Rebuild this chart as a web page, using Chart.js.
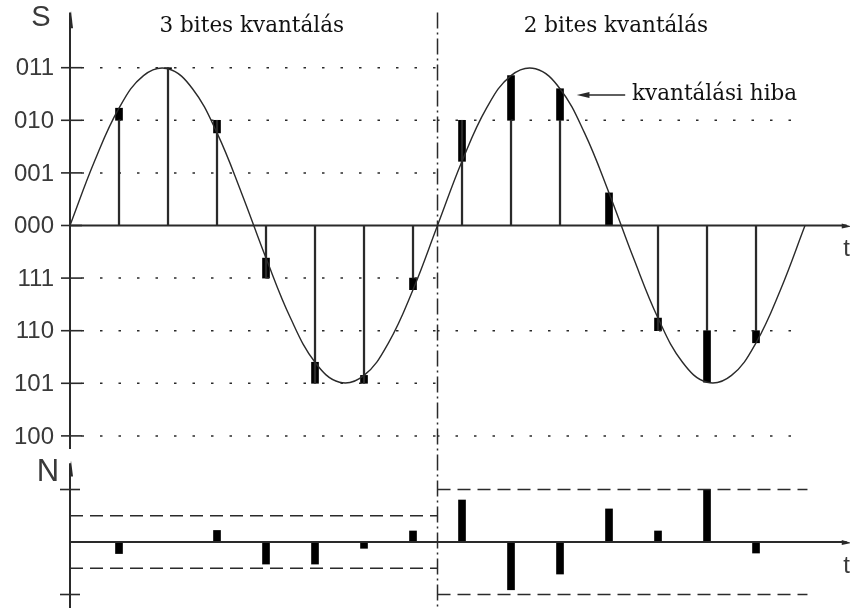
<!DOCTYPE html>
<html lang="hu">
<head>
<meta charset="UTF-8">
<title>Kvantálás</title>
<script src="https://cdn.jsdelivr.net/npm/chart.js"></script>
<style>
    html, body { margin: 0; padding: 0; background: #fff; }
    #wrap { position: relative; width: 850px; height: 608px; }
</style>
</head>
<body>
<div id="wrap"><canvas id="quantChart" width="850" height="608"></canvas></div>
<script>
// x = sample index k (one step = one sampling interval), y = quantization level
const curveK = [0, 0.5, 1, 1.5, 2, 2.5, 3, 3.5, 4, 4.5, 5, 5.5, 6, 6.5, 7, 7.5,
                8, 8.5, 9, 9.5, 10, 10.5, 11, 11.5, 12, 12.5, 13, 13.5, 14, 14.5, 15];
const curveS = [0, 1.22, 2.23, 2.85, 2.98, 2.60, 1.76, 0.62, -0.62, -1.76, -2.60, -2.98, -2.85, -2.23, -1.22, 0,
                1.22, 2.23, 2.85, 2.98, 2.60, 1.76, 0.62, -0.62, -1.76, -2.60, -2.98, -2.85, -2.23, -1.22, 0];

const sampleK = [1, 2, 3, 4, 5, 6, 7, 8, 9, 10, 11, 12, 13, 14];
const sampleS = [2.23, 2.98, 1.76, -0.62, -2.60, -2.85, -1.22, 1.22, 2.85, 2.60, 0.62, -1.76, -2.98, -2.23];
const sampleQ = [2, 3, 2, -1, -3, -3, -1, 2, 2, 2, 0, -2, -2, -2];
const errorN  = [-0.22, 0, 0.22, -0.42, -0.42, -0.12, 0.21, 0.80, -0.91, -0.61, 0.63, 0.21, 1.00, -0.21];

const levelValues = [3, 2, 1, 0, -1, -2, -3, -4];
const levelLabels = ['011', '010', '001', '000', '111', '110', '101', '100'];
const levels3 = [3, 2, 1, -1, -2, -3, -4];   // dotted, 3 bit half
const levels2 = [2, -2, -4];                 // dotted, 2 bit half
const band3 = [0.5, -0.5];                   // error limits, 3 bit
const band2 = [1, -1];                       // error limits, 2 bit
const splitK = 7.5;

const INK = '#2a2a2a';

function guide(pts, dash, offset, axis) {
    return {
        type: 'line', data: pts, yAxisID: axis,
        borderColor: INK, borderWidth: 1.5, borderDash: dash, borderDashOffset: offset,
        pointRadius: 0, fill: false, tension: 0
    };
}

const datasets = [
    ...levels3.map(l => guide([{x: 0, y: l}, {x: splitK, y: l}], [2.5, 16], 7, 'y')),
    ...levels2.map(l => guide([{x: splitK, y: l}, {x: 14.85, y: l}], [2.5, 16], 0.5, 'y')),
    ...band3.map(b => guide([{x: 0, y: b}, {x: splitK, y: b}], [13, 7], 0, 'yN')),
    ...band2.map(b => guide([{x: splitK, y: b}, {x: 15.05, y: b}], [13, 7], 0, 'yN')),
    {
        type: 'line', yAxisID: 'y',
        data: curveK.map((k, i) => ({x: k, y: curveS[i]})),
        borderColor: INK, borderWidth: 1.4, pointRadius: 0, tension: 0.4, fill: false
    },
    {
        type: 'bar', yAxisID: 'y', grouped: false,
        data: sampleK.map((k, i) => ({x: k, y: [0, sampleQ[i]]})),
        backgroundColor: INK, barThickness: 1.6, borderWidth: 0
    },
    {
        type: 'bar', yAxisID: 'y', grouped: false,
        data: sampleK.map((k, i) => ({x: k, y: [sampleQ[i], sampleS[i]]})),
        backgroundColor: '#000', barThickness: 7, borderWidth: 0
    },
    {
        type: 'bar', yAxisID: 'yN', grouped: false,
        data: sampleK.map((k, i) => ({x: k, y: [0, errorN[i]]})),
        backgroundColor: '#000', barThickness: 7, borderWidth: 0
    }
];

const decor = {
    id: 'decor',
    afterDraw(chart) {
        const ctx = chart.ctx;
        const X = v => chart.scales.x.getPixelForValue(v);
        const Y = v => chart.scales.y.getPixelForValue(v);
        const N = v => chart.scales.yN.getPixelForValue(v);
        const seg = (x1, y1, x2, y2) => { ctx.beginPath(); ctx.moveTo(x1, y1); ctx.lineTo(x2, y2); ctx.stroke(); };
        const x0 = X(0);

        ctx.save();
        ctx.strokeStyle = INK;
        ctx.fillStyle = INK;
        ctx.lineWidth = 2;

        // axes
        seg(x0, Y(4.05), x0, Y(-4.25));
        seg(x0, N(1.5), x0, N(-1.3));
        seg(x0, Y(0), X(15.85), Y(0));
        seg(x0, N(0), X(15.85), N(0));

        // arrow heads
        ctx.beginPath();
        ctx.moveTo(x0 + 1, Y(4.08)); ctx.lineTo(x0 - 1, Y(3.75)); ctx.lineTo(x0 + 3, Y(3.75)); ctx.fill();
        ctx.beginPath();
        ctx.moveTo(x0 + 1, N(1.55)); ctx.lineTo(x0 - 1, N(1.25)); ctx.lineTo(x0 + 3, N(1.25)); ctx.fill();
        [Y(0), N(0)].forEach(py => {
            ctx.beginPath();
            ctx.moveTo(X(15.95), py + 1); ctx.lineTo(X(15.75), py - 2); ctx.lineTo(X(15.75), py + 3); ctx.fill();
        });

        // ticks + level labels
        ctx.lineWidth = 1.6;
        ctx.fillStyle = '#3a3a3a';
        ctx.font = '24px "Liberation Sans", Arial, sans-serif';
        ctx.textAlign = 'right';
        ctx.textBaseline = 'middle';
        levelValues.forEach((v, i) => {
            seg(x0 - 9, Y(v), x0 + 12, Y(v));
            ctx.fillText(levelLabels[i], x0 - 16, Y(v) + 1);
        });
        [1, -1].forEach(v => seg(x0 - 10, N(v), x0 + 10, N(v)));

        // axis names
        ctx.textAlign = 'center';
        ctx.font = '29px "Liberation Sans", Arial, sans-serif';
        ctx.fillText('S', x0 - 29, Y(3.95));
        ctx.font = '31px "Liberation Sans", Arial, sans-serif';
        ctx.fillText('N', x0 - 22, N(1.33));
        ctx.textAlign = 'left';
        ctx.font = '24px "Liberation Sans", Arial, sans-serif';
        ctx.fillText('t', X(15.78), Y(-0.45));
        ctx.fillText('t', X(15.78), N(-0.46));

        // dash-dot divider
        ctx.lineWidth = 1.5;
        ctx.setLineDash([16, 4, 2, 4]);
        seg(X(splitK), Y(4.05), X(splitK), chart.height);
        ctx.setLineDash([]);

        // titles
        ctx.font = '21.5px "DejaVu Serif", serif';
        ctx.fillStyle = '#111';
        ctx.textAlign = 'center';
        ctx.fillText('3 bites kvantálás', X(3.71), Y(3.78));
        ctx.fillText('2 bites kvantálás', X(11.14), Y(3.78));
        ctx.textAlign = 'left';
        ctx.fillText('kvantálási hiba', X(11.47), Y(2.5));

        // pointer to the error bar
        ctx.fillStyle = INK;
        ctx.lineWidth = 1.5;
        seg(X(10.55), Y(2.48), X(11.33), Y(2.48));
        ctx.beginPath();
        ctx.moveTo(X(10.34), Y(2.48));
        ctx.lineTo(X(10.6), Y(2.48) - 3);
        ctx.lineTo(X(10.6), Y(2.48) + 3);
        ctx.fill();
        ctx.restore();
    }
};

new Chart(document.getElementById('quantChart').getContext('2d'), {
    type: 'bar',
    data: { datasets },
    options: {
        responsive: false,
        animation: false,
        events: [],
        layout: { padding: 0 },
        plugins: { legend: { display: false }, tooltip: { enabled: false } },
        scales: {
            x: { type: 'linear', min: -1.4286, max: 15.918, offset: false, display: false },
            y: { type: 'linear', min: -7.272, max: 4.287, display: false },
            yN: { type: 'linear', min: -1.257, max: 10.324, display: false }
        }
    },
    plugins: [decor]
});
</script>
</body>
</html>
